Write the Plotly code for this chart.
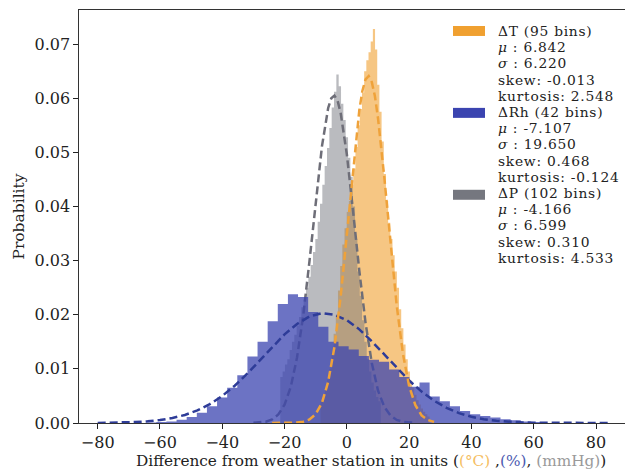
import plotly.graph_objects as go

# ---------------- data ----------------
# Histogram of ΔT (density), first bin centre and bin width, bin heights
T_FIRST_CENTER = -8.1
T_WIDTH = 0.7
T_HEIGHTS = [0.0040, 0.0050, 0.0065, 0.0080, 0.0100, 0.0130, 0.0165, 0.0200, 0.0245, 0.0290,
             0.0330, 0.0360, 0.0390, 0.0410, 0.0440, 0.0470, 0.0510, 0.0550, 0.0580, 0.0610,
             0.0650, 0.0670, 0.0685, 0.0705, 0.0728, 0.0690, 0.0625, 0.0575, 0.0520, 0.0460,
             0.0410, 0.0370, 0.0340, 0.0310, 0.0280, 0.0250, 0.0210, 0.0175, 0.0145, 0.0118,
             0.0095, 0.0078, 0.0065, 0.0052, 0.0042, 0.0034, 0.0027, 0.0021, 0.0016, 0.0012]

# Histogram of ΔP
P_FIRST_CENTER = -21.0
P_WIDTH = 0.75
P_HEIGHTS = [0.0085, 0.0095, 0.0108, 0.0118, 0.0135, 0.0150, 0.0163, 0.0180, 0.0196, 0.0214,
             0.0228, 0.0250, 0.0270, 0.0292, 0.0316, 0.0340, 0.0372, 0.0405, 0.0440, 0.0475,
             0.0508, 0.0545, 0.0583, 0.0612, 0.0644, 0.0622, 0.0590, 0.0560, 0.0528, 0.0490,
             0.0455, 0.0400, 0.0340, 0.0280, 0.0235, 0.0190, 0.0150, 0.0118, 0.0095, 0.0075,
             0.0060, 0.0048, 0.0040]

# Histogram of ΔRh
RH_FIRST_CENTER = -62.8
RH_WIDTH = 3.25
RH_HEIGHTS = [0.0001, 0.0002, 0.0003, 0.0006, 0.0011, 0.0019, 0.0031, 0.0047, 0.0065, 0.0088,
              0.0123, 0.0150, 0.0188, 0.0220, 0.0238, 0.0233, 0.0205, 0.0178, 0.0150, 0.0142,
              0.0136, 0.0124, 0.0117, 0.0113, 0.0099, 0.0085, 0.0067, 0.0075, 0.0049, 0.0040,
              0.0031, 0.0022, 0.0016, 0.0013, 0.0010, 0.0007, 0.0005, 0.0003, 0.0002]

# Dashed fitted curves
T_FIT_X = [-24, -20, -16, -14, -12, -10, -8, -6, -4, -2, 0, 2, 4, 5, 6, 7, 8, 9, 10, 12,
           14, 16, 18, 20, 22, 24, 26, 28]
T_FIT_Y = [0.0, 0.000006, 0.000076, 0.00023, 0.00065, 0.00164, 0.0037, 0.0076, 0.0140, 0.0233,
           0.0350, 0.0473, 0.0578, 0.0614, 0.0635, 0.0641, 0.0630, 0.0604, 0.0563, 0.0455,
           0.0331, 0.0217, 0.0128, 0.0068, 0.0033, 0.0014, 0.00056, 0.0002]

P_FIT_X = [-30, -26, -24, -22, -20, -18, -16, -14, -12, -10, -8, -6, -5, -4, -3, -2, 0, 2,
           4, 6, 8, 10, 12, 14, 16, 18, 22]
P_FIT_Y = [0.00003, 0.00025, 0.00066, 0.00157, 0.0034, 0.0067, 0.0121, 0.0199, 0.0299, 0.0409,
           0.0511, 0.0582, 0.0600, 0.0605, 0.0596, 0.0573, 0.0496, 0.0391, 0.0281, 0.0185,
           0.0111, 0.0060, 0.0030, 0.00137, 0.00057, 0.00022, 0.00002]

RH_FIT_X = [-80, -76, -72, -68, -64, -60, -56, -52, -48, -44, -40, -36, -32, -28, -24, -20,
            -16, -12, -8, -4, 0, 4, 8, 12, 16, 20, 24, 28, 32, 36, 40, 44, 48, 52, 56, 60,
            64, 68, 72, 76, 84.5]
RH_FIT_Y = [0.00002, 0.00004, 0.00009, 0.00017, 0.00031, 0.00054, 0.00092, 0.00149, 0.00233,
            0.00348, 0.0050, 0.00689, 0.0091, 0.01154, 0.0140, 0.01637, 0.0183, 0.01968,
            0.0203, 0.0200, 0.0190, 0.0173, 0.0151, 0.01265, 0.0102, 0.00784, 0.0058,
            0.00411, 0.0028, 0.00183, 0.00115, 0.00069, 0.0004, 0.00022, 0.00012, 0.00006,
            0.00003, 0.000015, 0.000006, 0.000003, 0.0]

# Legend statistics
SERIES_NAMES = ["ΔT (95 bins)", "ΔRh (42 bins)", "ΔP (102 bins)"]
MU = ["6.842", "-7.107", "-4.166"]
SIGMA = ["6.220", "19.650", "6.599"]
SKEW = ["-0.013", "0.468", "0.310"]
KURT = ["2.548", "-0.124", "4.533"]

X_TICKS = [-80, -60, -40, -20, 0, 20, 40, 60, 80]
Y_TICKS = [0.00, 0.01, 0.02, 0.03, 0.04, 0.05, 0.06, 0.07]

# ---------------- styling ----------------
FONT = "DejaVu Serif"
TXT = "#222222"
ORANGE = "#F0A030"
BLUE = "#3B44B0"
GRAY = "#75777F"
ORANGE_FILL = "rgba(240,160,48,0.6)"
GRAY_FILL = "rgba(117,119,127,0.5)"
BLUE_FILL = "rgba(59,68,176,0.75)"
ORANGE_LINE = "#EFA23A"
GRAY_LINE = "#6E6E78"
BLUE_LINE = "#2E3C98"
DASH = "8px,4px"

W, H = 625, 471
ML, MR, MT, MB = 79, 0, 10, 47.5
PLOT_H = H - MT - MB
PLOT_W = W - ML - MR


def step_xy(first_center, width, heights):
    edges = [first_center - width / 2 + i * width for i in range(len(heights) + 1)]
    ys = list(heights) + [heights[-1]]
    return edges, ys


fig = go.Figure()


def add_hist(first_center, width, heights, fill):
    xs, ys = step_xy(first_center, width, heights)
    fig.add_trace(go.Scatter(x=xs, y=ys, mode="lines", line=dict(width=0, shape="hv"),
                             fill="tozeroy", fillcolor=fill, showlegend=False,
                             hoverinfo="skip"))


def add_fit(xs, ys, color):
    fig.add_trace(go.Scatter(x=xs, y=ys, mode="lines",
                             line=dict(color=color, width=2.5, dash=DASH),
                             showlegend=False, hoverinfo="skip"))


add_hist(T_FIRST_CENTER, T_WIDTH, T_HEIGHTS, ORANGE_FILL)
add_hist(P_FIRST_CENTER, P_WIDTH, P_HEIGHTS, GRAY_FILL)
add_fit(P_FIT_X, P_FIT_Y, GRAY_LINE)
add_hist(RH_FIRST_CENTER, RH_WIDTH, RH_HEIGHTS, BLUE_FILL)
add_fit(RH_FIT_X, RH_FIT_Y, BLUE_LINE)
add_fit(T_FIT_X, T_FIT_Y, ORANGE_LINE)


def py(pix_y):
    return (H - MB - pix_y) / PLOT_H


def px(pix_x):
    return (pix_x - ML) / PLOT_W


# manual legend: colour patches + one text block (15 lines, tight spacing)
LINE_STEP = 16.2          # px between legend lines
GLYPH_PX = 13.8           # glyph size of legend text
LETTER_SP = 0.75          # px extra tracking (reference text is wide)
FIRST_LINE_Y = 31.7
patch_colors = [ORANGE, BLUE, GRAY]
patch_tops = [26, 108, 190]
shapes = []
for i in range(3):
    shapes.append(dict(type="rect", xref="paper", yref="paper",
                       x0=px(453), x1=px(485), y0=py(patch_tops[i] + 10), y1=py(patch_tops[i]),
                       fillcolor=patch_colors[i], line=dict(width=0)))

legend_lines = []
for i in range(3):
    legend_lines += [SERIES_NAMES[i], f"<i>μ</i> : {MU[i]}", f"<i>σ</i> : {SIGMA[i]}",
                     f"skew: {SKEW[i]}", f"kurtosis: {KURT[i]}"]
legend_text = "<br>".join(
    f'<span style="font-size:{GLYPH_PX}px;letter-spacing:{LETTER_SP}px">{s}</span>'
    for s in legend_lines)
n_lines = len(legend_lines)
legend_center = FIRST_LINE_Y + (n_lines - 1) * LINE_STEP / 2

annotations = [dict(text=legend_text, xref="paper", yref="paper", x=px(496),
                    y=py(legend_center), xanchor="left", yanchor="middle", align="left",
                    showarrow=False,
                    font=dict(family=FONT, size=LINE_STEP / 1.3, color=TXT))]

xlabel = ('Difference from weather station in units ('
          '<span style="color:#F5BE62">(°C)</span> ,'
          '<span style="color:#4C5AB0">(%)</span>, '
          '<span style="color:#9A9A9A">(mmHg)</span>)')
annotations.append(dict(text=xlabel, xref="paper", yref="paper", x=px(370.5), y=py(461.5),
                        xanchor="center", yanchor="middle", showarrow=False,
                        font=dict(family=FONT, size=15.3, color=TXT)))

fig.update_layout(
    width=W, height=H,
    margin=dict(l=ML, r=MR, t=MT, b=MB, pad=0),
    template="none",
    paper_bgcolor="white", plot_bgcolor="white",
    font=dict(family=FONT, size=15.5, color=TXT),
    showlegend=False,
    shapes=shapes, annotations=annotations,
    xaxis=dict(range=[-86.0, 89.3], tickvals=X_TICKS, ticks="outside", ticklen=4.5,
               tickwidth=1.2, tickcolor=TXT, showline=True, linecolor="#333333",
               linewidth=1.3, mirror=True, showgrid=False, zeroline=False,
               tickfont=dict(family=FONT, size=16, color=TXT)),
    yaxis=dict(range=[0, 0.0763], tickvals=Y_TICKS, tickformat=".2f", ticks="outside",
               ticklen=4.5, tickwidth=1.2, tickcolor=TXT, showline=True,
               linecolor="#333333", linewidth=1.3, mirror=False, showgrid=False,
               zeroline=False, tickfont=dict(family=FONT, size=16, color=TXT),
               title=dict(text="Probability", standoff=6,
                          font=dict(family=FONT, size=15.5, color=TXT))),
)

fig.write_html("out.html",
               config={"displayModeBar": False},
               post_script="document.body.style.margin='0px';"
                           "document.body.style.overflow='hidden';")
